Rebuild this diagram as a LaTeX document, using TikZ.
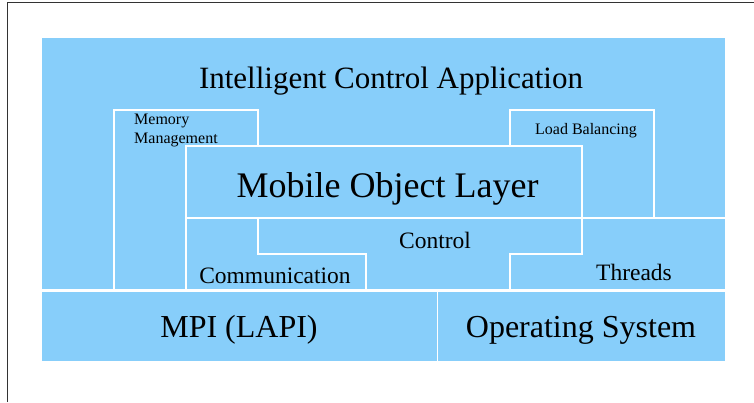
\documentclass[tikz,border=0pt]{standalone}
\usepackage{fontspec}
\setmainfont{Liberation Serif}
\definecolor{layerblue}{RGB}{135,206,250}

\begin{document}
\begin{tikzpicture}[x=1pt,y=-1pt,
  edge/.style={draw=white,line width=2.5pt},
  bigtext/.style={font=\fontsize{31}{37}\selectfont,anchor=base,inner sep=0pt},
  midtext/.style={font=\fontsize{23.5}{28}\selectfont,anchor=base,inner sep=0pt},
  smalltext/.style={font=\fontsize{16}{19}\selectfont,inner sep=0pt}]
\useasboundingbox (0,0) rectangle (754,402);
\draw[black!80,line width=1pt] (7.5,402) -- (7.5,2) -- (754,2);
% blue ground of all layers
\fill[layerblue] (42,38) rectangle (725,361);
% separating lines
\draw[edge] (42,290.5) -- (725,290.5);
\draw[edge,line width=1.5pt] (437.5,290.5) -- (437.5,361);
\draw[edge] (114,290) |- (258,110) -- (258,146);
\draw[edge] (186,290) |- (582,146) -- (582,254) -- (510,254) -- (510,290);
\draw[edge] (186,218) -- (725,218);
\draw[edge] (258,218) |- (366,254) -- (366,290);
\draw[edge] (510,146) |- (654,110) -- (654,218);
% labels
\node[bigtext] (app) at (391,88) {Intelligent Control Application};
\node[smalltext,anchor=base west,align=left] (mem) at (134,143) {Memory\\Management};
\node[smalltext,anchor=base] (load) at (586,134) {Load Balancing};
\node[bigtext,font=\fontsize{36}{43}\selectfont] (mol) at (387.5,197) {Mobile Object Layer};
\node[midtext] (ctrl) at (435,248) {Control};
\node[midtext] (comm) at (275,283) {Communication};
\node[midtext] (thr) at (634,280) {Threads};
\node[bigtext,font=\fontsize{32}{38}\selectfont] (mpi) at (239,337) {MPI (LAPI)};
\node[bigtext,font=\fontsize{32}{38}\selectfont] (os) at (581,337) {Operating System};
\end{tikzpicture}
\end{document}
